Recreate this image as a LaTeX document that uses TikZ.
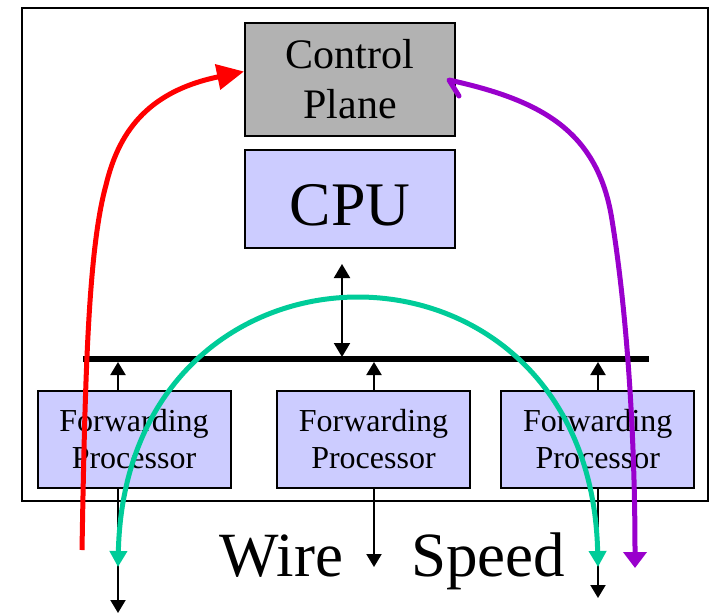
\documentclass[tikz,border=0pt]{standalone}
\usepackage{fontspec}
\setmainfont{Liberation Serif}
\usetikzlibrary{arrows.meta}
\definecolor{cpgray}{RGB}{178,178,178}
\definecolor{boxblue}{RGB}{204,204,255}
\definecolor{pathred}{RGB}{255,0,0}
\definecolor{pathpurple}{RGB}{153,0,204}
\definecolor{pathgreen}{RGB}{0,204,153}
\begin{document}
\begin{tikzpicture}[x=1pt,y=-1pt,
  box/.style={draw=black, line width=2pt, inner sep=0pt, align=center},
  cpbox/.style={box, fill=cpgray, minimum width=210pt, minimum height=113pt, font=\fontsize{42}{50}\selectfont},
  cpubox/.style={box, fill=boxblue, minimum width=210pt, minimum height=98pt, text height=54pt, font=\fontsize{62}{70}\selectfont},
  fpbox/.style={box, fill=boxblue, minimum width=193pt, minimum height=97pt, font=\fontsize{32}{37}\selectfont},
  wstext/.style={inner sep=0pt, anchor=base, font=\fontsize{63}{70}\selectfont},
  blackarr/.style={line width=2pt, -{Triangle[length=13pt,width=15pt]}},
  cpuarr/.style={line width=2pt, {Triangle[length=14pt,width=16pt]}-{Triangle[length=14pt,width=16pt]}},
  greenpath/.style={draw=pathgreen, line width=5pt, {Triangle[length=16pt,width=17pt]}-{Triangle[length=16pt,width=17pt]}},
  redpath/.style={draw=pathred, line width=5pt, -{Triangle[length=27pt,width=25pt]}},
  purplepath/.style={draw=pathpurple, line width=5pt, line join=round, line cap=round, -{Triangle[length=16pt,width=23pt]}}
]
\useasboundingbox (0,0) rectangle (709,614);
\draw[line width=2pt] (22,8) rectangle (708,501);

\node[cpbox] (cp) at (350,79.5) {Control\\Plane};
\node[cpubox] (cpu) at (350,199) {CPU};
\node[fpbox] (fp1) at (134,439) {Forwarding\\Processor};
\node[fpbox] (fp2) at (373.5,439) {Forwarding\\Processor};
\node[fpbox] (fp3) at (597.8,439) {Forwarding\\Processor};

\node[wstext] (wire) at (281.5,576) {Wire};
\node[wstext] (speed) at (488,576) {Speed};

% bus
\coordinate (busL) at (83,359);
\coordinate (busR) at (649,359);
\draw[line width=6pt] (busL) -- (busR);

% bus arrows
\coordinate (b1) at (118,362);
\coordinate (b2) at (374,362);
\coordinate (b3) at (598,362);
\draw[blackarr] (b1 |- fp1.north) -- (b1);
\draw[blackarr] (b2 |- fp2.north) -- (b2);
\draw[blackarr] (b3 |- fp3.north) -- (b3);

% CPU arrow
\coordinate (cputop) at (342,264);
\coordinate (cpubot) at (342,357);
\draw[cpuarr] (cputop) -- (cpubot);

% output arrows
\coordinate (o1) at (118,613);
\coordinate (o2) at (374,567);
\coordinate (o3) at (598,598);
\draw[blackarr] (o1 |- fp1.south) -- (o1);
\draw[blackarr] (o2 |- fp2.south) -- (o2);
\draw[blackarr] (o3 |- fp3.south) -- (o3);

% green arc
\coordinate (g1) at (118,567);
\coordinate (g2) at (598,567);
\draw[greenpath] (g1) .. controls (126,212) and (590,212) .. (g2);

% red path
\coordinate (r0) at (82,550);
\coordinate (rt) at ([yshift=8pt]cp.west);
\draw[redpath] (r0) .. controls (85,380) and (88,250) .. (106,185)
  .. controls (118,135) and (145,92) .. (rt);

% purple path
\coordinate (p0) at (459,96);
\coordinate (p1) at (449,80);
\coordinate (pt) at (635,568);
\draw[purplepath] (p0) -- (p1) .. controls (540,100) and (598,130) .. (612,220)
  .. controls (625,300) and (635,420) .. (pt);
\end{tikzpicture}
\end{document}
